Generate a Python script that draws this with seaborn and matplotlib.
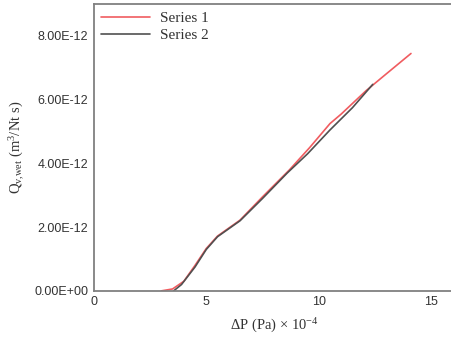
import numpy as np
import pandas as pd
import matplotlib
matplotlib.use("Agg")
import matplotlib.pyplot as plt
import seaborn as sns

# Data (x: ΔP (Pa) × 10^-4, y: Q_v,wet in m^3/Nt s)
s1_x = [3.0, 3.5, 4.0, 4.5, 5.0, 5.5, 6.5, 7.5, 8.7, 9.6, 10.5, 11.0, 12.1, 12.9, 14.1]
s1_y = [0.0, 0.06e-12, 0.3e-12, 0.8e-12, 1.33e-12, 1.72e-12, 2.22e-12, 2.95e-12, 3.8e-12,
        4.5e-12, 5.25e-12, 5.55e-12, 6.28e-12, 6.75e-12, 7.45e-12]
s2_x = [3.55, 3.9, 4.5, 5.0, 5.5, 6.5, 7.5, 8.6, 9.5, 10.5, 11.5, 12.4]
s2_y = [0.0, 0.2e-12, 0.75e-12, 1.3e-12, 1.7e-12, 2.2e-12, 2.9e-12, 3.7e-12, 4.3e-12,
        5.05e-12, 5.75e-12, 6.48e-12]
series_names = ["Series 1", "Series 2"]
y_ticks = [0, 2e-12, 4e-12, 6e-12, 8e-12]
y_tick_labels = ["0.00E+00", "2.00E-12", "4.00E-12", "6.00E-12", "8.00E-12"]
x_ticks = [0, 5, 10, 15]

df = pd.concat([
    pd.DataFrame({"x": s1_x, "y": s1_y, "series": series_names[0]}),
    pd.DataFrame({"x": s2_x, "y": s2_y, "series": series_names[1]}),
], ignore_index=True)

sns.set_style("white")
plt.rcParams["mathtext.fontset"] = "custom"
plt.rcParams["mathtext.rm"] = "Liberation Serif"
plt.rcParams["mathtext.it"] = "Liberation Serif"

fig = plt.figure(figsize=(4.51, 3.41), dpi=100)
ax = fig.add_axes([0.208, 0.147, 0.800, 0.841])

sns.lineplot(data=df, x="x", y="y", hue="series", sort=False,
             palette={"Series 1": "#f05c60", "Series 2": "#505050"},
             linewidth=1.2, ax=ax, legend=True)

ax.set_xlim(0, 16.04)
ax.set_ylim(0, 9e-12)
ax.set_xticks(x_ticks)
ax.set_xticklabels([str(t) for t in x_ticks], fontfamily="Liberation Sans", fontsize=9, color="#333333")
ax.set_yticks(y_ticks)
ax.set_yticklabels(y_tick_labels, fontfamily="Liberation Sans", fontsize=9, color="#333333")
ax.tick_params(length=0, pad=4)

for sp in ax.spines.values():
    sp.set_color("#808080")
    sp.set_linewidth(1.3)

ax.set_xlabel("ΔP (Pa) × 10$^{\\mathregular{-4}}$", fontfamily="Liberation Serif",
              fontsize=10.5, color="#333333", labelpad=6)
ax.set_ylabel("Q$_{\\mathregular{v{,}wet}}$ (m$^{\\mathregular{3}}$/Nt s)", fontfamily="Liberation Serif",
              fontsize=10.5, color="#333333", labelpad=5)

leg = ax.legend(loc="upper left", frameon=False,
                prop={"family": "Liberation Serif", "size": 11},
                handlelength=3.2, borderaxespad=0.1, labelspacing=0.2, handletextpad=0.6)
for t in leg.get_texts():
    t.set_color("#333333")

fig.savefig("out.png", dpi=100)
